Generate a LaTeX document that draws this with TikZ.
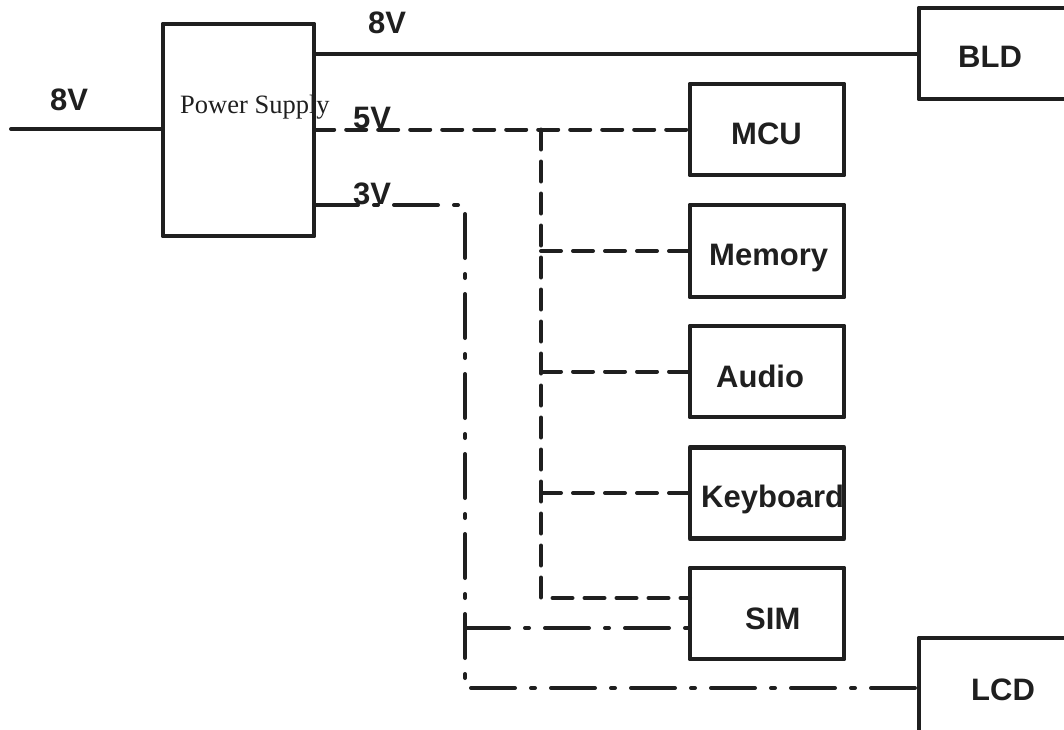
\documentclass[tikz,border=0pt]{standalone}
\usepackage{fontspec}
\setmainfont{Liberation Serif}
\setsansfont{Liberation Sans}
\begin{document}
\begin{tikzpicture}[x=1pt,y=-1pt,
  box/.style={draw=black!88,line width=4.5pt,rectangle,inner sep=0pt,line join=round},
  wire/.style={draw=black!88,line width=4pt,line cap=round,line join=round},
  dashwire/.style={wire,dash pattern=on 20pt off 12pt},
  dotwire/.style={wire,dash pattern=on 44pt off 16pt on 4pt off 16pt},
  lbl/.style={inner sep=0pt,anchor=base west,text=black!88,font=\sffamily\bfseries\fontsize{31}{36}\selectfont},
  pslbl/.style={inner sep=0pt,anchor=base west,text=black!88,font=\fontsize{26.5}{31}\selectfont}]
\useasboundingbox (0,0) rectangle (1064,729);
\clip (0,0) rectangle (1064,729);
% box nodes (outlines drawn at the end)
\path (238.5,130) node[minimum width=151pt,minimum height=212pt,inner sep=0pt] (ps) {};
\path (999.5,53.5) node[minimum width=161pt,minimum height=91pt,inner sep=0pt] (bld) {};
\path (767,129.5) node[minimum width=154pt,minimum height=91pt,inner sep=0pt] (mcu) {};
\path (767,251) node[minimum width=154pt,minimum height=92pt,inner sep=0pt] (mem) {};
\path (767,371.5) node[minimum width=154pt,minimum height=91pt,inner sep=0pt] (aud) {};
\path (767,493) node[minimum width=154pt,minimum height=91pt,inner sep=0pt] (kbd) {};
\path (767,613.5) node[minimum width=154pt,minimum height=91pt,inner sep=0pt] (sim) {};
\path (999.5,699) node[minimum width=161pt,minimum height=122pt,inner sep=0pt] (lcd) {};
% coordinates
\coordinate (in) at (11,129);
\coordinate (j5) at (541,129.5);
\coordinate (sim5) at (690,598);
\coordinate (s3) at (314,205);
\coordinate (c3a) at (465,205);
\coordinate (c3b) at (465,688);
\coordinate (lcd3) at (919,688);
\coordinate (b3) at (465,628);
\coordinate (sim3) at (690,628);
% wires
\draw[wire] (in) -- (ps.west |- in);
\draw[wire] (ps.east |- bld.west) -- (bld.west);
\draw[dashwire] (ps.east |- mcu.west) -- (mcu.west);
\draw[dashwire] (j5) -- (j5 |- sim5) -- (sim5);
\draw[dashwire] (j5 |- mem.west) -- (mem.west);
\draw[dashwire] (j5 |- aud.west) -- (aud.west);
\draw[dashwire] (j5 |- kbd.west) -- (kbd.west);
\draw[dotwire] (s3) -- (c3a) -- (c3b) -- (lcd3);
\draw[dotwire] (b3) -- (sim3);
% labels
\node[lbl] (l8in) at (50,110) {8V};
\node[lbl] (l8out) at (368,33) {8V};
\node[lbl] (l5) at (353,128) {5V};
\node[lbl] (l3) at (353,204) {3V};
\node[pslbl] (tps) at (180,113) {Power Supply};
\node[lbl] (tbld) at (958,67) {BLD};
\node[lbl] (tmcu) at (731,144) {MCU};
\node[lbl] (tmem) at (709,265) {Memory};
\node[lbl] (taud) at (716,387) {Audio};
\node[lbl] (tkbd) at (701,507) {Keyboard};
\node[lbl] (tsim) at (745,629) {SIM};
\node[lbl] (tlcd) at (971,700) {LCD};
% box outlines on top
\foreach \b in {ps,bld,mcu,mem,aud,kbd,sim,lcd}
  \draw[box] (\b.north west) rectangle (\b.south east);
\end{tikzpicture}
\end{document}
